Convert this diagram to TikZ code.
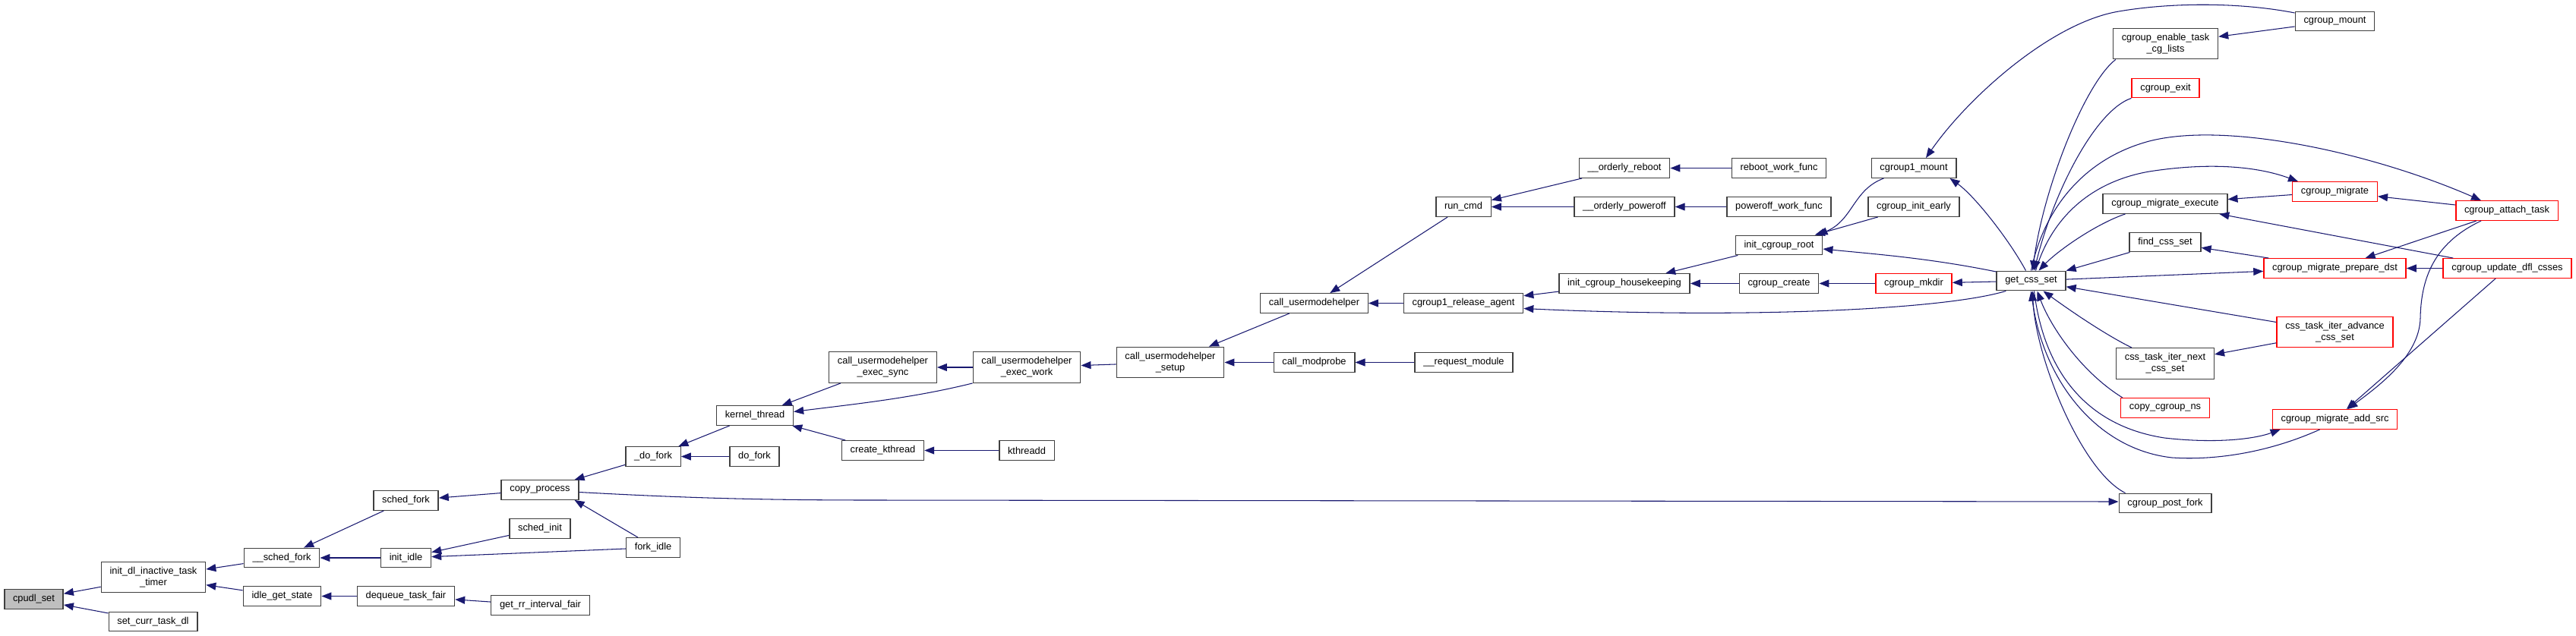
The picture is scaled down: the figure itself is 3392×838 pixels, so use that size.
\documentclass[tikz,border=0pt]{standalone}
\usepackage{fontspec}
\setmainfont{Liberation Sans}
\usepackage{tikz}
\usetikzlibrary{arrows.meta,calc}
\definecolor{edgeblue}{RGB}{25,25,112}
\definecolor{fnframe}{RGB}{64,64,64}
\definecolor{fnredline}{RGB}{255,0,0}
\definecolor{fngray}{RGB}{191,191,191}
\tikzset{
  fn/.style={draw=fnframe, line width=0.8pt, fill=white, inner xsep=6.4pt, inner ysep=0pt,
    minimum height=0.51cm, align=center, font=\fontsize{7.3}{8.5}\selectfont},
  fnred/.style={fn, draw=fnredline},
  fnhere/.style={fn, fill=fngray},
  fntwo/.style={minimum height=0.81cm},
  calls/.style={-{Triangle[length=2.6mm, width=2mm]}, draw=edgeblue, line width=0.6pt},
}

\begin{document}
\begin{tikzpicture}[x=0.02cm, y=-0.02cm]
\useasboundingbox (0,0) rectangle (3392,838);
% sched side
\node[fnhere] (cpudl) at (44.5,789.5) {cpudl\_set};
\node[fn, fntwo] (initdl) at (202,760.5) {init\_dl\_inactive\_task\\\_timer};
\node[fn] (setcurr) at (201.5,819) {set\_curr\_task\_dl};
\node[fn] (schedforkint) at (371,735) {\_\_sched\_fork};
\node[fn] (idleget) at (371.5,785.5) {idle\_get\_state};
\node[fn] (schedfork) at (534.5,659.5) {sched\_fork};
\node[fn] (initidle) at (534.5,735) {init\_idle};
\node[fn] (dequeue) at (534.5,785.5) {dequeue\_task\_fair};
\node[fn] (copyproc) at (711,645.5) {copy\_process};
\node[fn] (schedinit) at (711,696.5) {sched\_init};
\node[fn] (getrr) at (711.5,797.5) {get\_rr\_interval\_fair};
\node[fn] (dofork_) at (860,601.5) {\_do\_fork};
\node[fn] (forkidle) at (860,721.5) {fork\_idle};
\node[fn] (dofork) at (993.5,601.5) {do\_fork};
\node[fn] (kthread) at (994,547.5) {kernel\_thread};
\node[fn, fntwo] (execsync) at (1162.5,484) {call\_usermodehelper\\\_exec\_sync};
\node[fn] (createk) at (1162.5,593.5) {create\_kthread};
\node[fn, fntwo] (execwork) at (1352,484) {call\_usermodehelper\\\_exec\_work};
\node[fn] (kthreadd) at (1352,593.5) {kthreadd};
\node[fn, fntwo] (umhsetup) at (1541,477.5) {call\_usermodehelper\\\_setup};
\node[fn] (umh) at (1730.5,399.5) {call\_usermodehelper};
\node[fn] (modprobe) at (1730.5,477.5) {call\_modprobe};
\node[fn] (runcmd) at (1927,272.5) {run\_cmd};
\node[fn] (relagent) at (1927,399.5) {cgroup1\_release\_agent};
\node[fn] (reqmod) at (1927.5,477.5) {\_\_request\_module};
\node[fn] (oreboot) at (2139,221.5) {\_\_orderly\_reboot};
\node[fn] (opoweroff) at (2139,272.5) {\_\_orderly\_poweroff};
\node[fn] (housekeep) at (2139,373.5) {init\_cgroup\_housekeeping};
\node[fn] (rebootwf) at (2342.5,221.5) {reboot\_work\_func};
\node[fn] (poweroffwf) at (2342.5,272.5) {poweroff\_work\_func};
\node[fn] (cgroot) at (2342.5,323) {init\_cgroup\_root};
\node[fn] (cgcreate) at (2342.5,373.5) {cgroup\_create};
% cgroup side
\node[fn] (cg1mount) at (2520,221.5) {cgroup1\_mount};
\node[fn] (cginitearly) at (2520,272.5) {cgroup\_init\_early};
\node[fnred] (cgmkdir) at (2520,373.5) {cgroup\_mkdir};
\node[fn] (getcss) at (2674.5,370) {get\_css\_set};
\node[fn, fntwo] (enablecg) at (2851.5,57.5) {cgroup\_enable\_task\\\_cg\_lists};
\node[fnred] (cgexit) at (2851.5,116) {cgroup\_exit};
\node[fn] (migexec) at (2851,268.5) {cgroup\_migrate\_execute};
\node[fn] (findcss) at (2851,319) {find\_css\_set};
\node[fn, fntwo] (iternext) at (2851,479) {css\_task\_iter\_next\\\_css\_set};
\node[fnred] (copyns) at (2851,537.5) {copy\_cgroup\_ns};
\node[fn] (postfork) at (2851,663) {cgroup\_post\_fork};
\node[fn] (cgmount) at (3074.5,28) {cgroup\_mount};
\node[fnred] (migrate) at (3074.5,252.5) {cgroup\_migrate};
\node[fnred] (prepdst) at (3074.5,353.5) {cgroup\_migrate\_prepare\_dst};
\node[fnred, fntwo] (iteradv) at (3074.5,437.5) {css\_task\_iter\_advance\\\_css\_set};
\node[fnred] (addsrc) at (3074.5,552.5) {cgroup\_migrate\_add\_src};
\node[fnred] (attach) at (3301,277.5) {cgroup\_attach\_task};
\node[fnred] (updfl) at (3301.5,353.5) {cgroup\_update\_dfl\_csses};

\draw[calls] (initdl) -- (cpudl); \draw[calls] (setcurr) -- (cpudl);
\draw[calls] (schedforkint) -- (initdl); \draw[calls] (idleget) -- (initdl);
\draw[calls] (schedfork) -- (schedforkint); \draw[calls] (initidle) -- (schedforkint);
\draw[calls] (dequeue) -- (idleget); \draw[calls] (getrr) -- (dequeue);
\draw[calls] (copyproc) -- (schedfork); \draw[calls] (schedinit) -- (initidle);
\draw[calls] (forkidle) -- (initidle);
\draw[calls] ($(forkidle.north)+(-20,0)$) -- ($(copyproc.south east)+(-6,0)$);
\draw[calls] (dofork_) -- (copyproc); \draw[calls] (dofork) -- (dofork_);
\draw[calls] (kthread) -- (dofork_);
\draw[calls] (execsync) -- (kthread); \draw[calls] (createk) -- (kthread);
\draw[calls] (execwork.south west) .. controls (1200,525) and (1120,533) .. ($(kthread.east)+(0,-5)$);
\draw[calls] (kthreadd) -- (createk);
\draw[calls] (execwork) -- (execsync); \draw[calls] (umhsetup) -- (execwork);
\draw[calls] (umh) -- (umhsetup); \draw[calls] (modprobe) -- (umhsetup);
\draw[calls] (reqmod) -- (modprobe);
\draw[calls] (runcmd) -- (umh); \draw[calls] (relagent) -- (umh);
\draw[calls] (oreboot) -- (runcmd); \draw[calls] (opoweroff) -- (runcmd);
\draw[calls] (rebootwf) -- (oreboot); \draw[calls] (poweroffwf) -- (opoweroff);
\draw[calls] (housekeep) -- (relagent);
\draw[calls] (cgroot) -- (housekeep); \draw[calls] (cgcreate) -- (housekeep);
\draw[calls] (cgmkdir) -- (cgcreate); \draw[calls] (getcss) -- (cgmkdir);
\draw[calls] (cginitearly) -- (cgroot);
\draw[calls] ($(cg1mount.south west)+(17,0)$) .. controls (2440,250) and (2440,290) .. ($(cgroot.north east)+(-7,0)$);
\draw[calls] ($(getcss.west)+(0,-12)$) .. controls (2540,340) and (2470,335) .. ($(cgroot.east)+(0,5)$);
\draw[calls] ($(getcss.south west)+(13,0)$) .. controls (2560,408) and (2300,420) .. ($(relagent.east)+(0,7)$);
\draw[calls] ($(getcss.north)+(-7,0)$) .. controls (2645,315) and (2600,258) .. ($(cg1mount.south east)+(-9,0)$);
\draw[calls] ($(cgmount.west)+(0,-11)$) .. controls (2950,3) and (2860,3) .. (2790,15) .. controls (2700,30) and (2590,130) .. ($(cg1mount.north)+(16,0)$);
\draw[calls] (cgmount) -- (enablecg);
% into get_css_set
\draw[calls] ($(enablecg.south west)+(4,0)$) .. controls (2745,110) and (2690,250) .. ($(getcss.north)+(2,0)$);
\draw[calls] (cgexit.south west) .. controls (2760,145) and (2705,250) .. ($(getcss.north)+(4,0)$);
\draw[calls] ($(migexec.south west)+(30,0)$) .. controls (2760,295) and (2710,330) .. ($(getcss.north)+(10,0)$);
\draw[calls] (findcss) -- (getcss); \draw[calls] (iteradv) -- (getcss);
\draw[calls] ($(iternext.north west)+(21,0)$) .. controls (2770,440) and (2720,405) .. ($(getcss.south)+(16,0)$);
\draw[calls] ($(copyns.north west)+(3,0)$) .. controls (2740,490) and (2700,430) .. ($(getcss.south)+(8,0)$);
\draw[calls] ($(postfork.north west)+(9,0)$) .. controls (2740,620) and (2680,470) .. ($(getcss.south)+(2,0)$);
\draw[calls] ($(addsrc.south west)+(63,0)$) .. controls (2990,595) and (2920,607) .. (2860,603) .. controls (2760,592) and (2690,500) .. (getcss.south);
% out of get_css_set
\draw[calls] ($(getcss.south)+(4,0)$) .. controls (2690,480) and (2740,560) .. (2850,577) .. controls (2920,585) and (2970,578) .. ($(addsrc.south west)+(11,0)$);
\draw[calls] (getcss) -- (prepdst);
\draw[calls] ($(getcss.north)+(6,0)$) .. controls (2700,290) and (2750,240) .. (2830,226) .. controls (2920,212) and (2980,222) .. ($(migrate.north west)+(8,0)$);
\draw[calls] (getcss.north) .. controls (2690,280) and (2740,210) .. (2830,186) .. controls (2930,160) and (3120,200) .. ($(attach.north)+(-34,0)$);
\draw[calls] (iteradv) -- (iternext);
\draw[calls] (prepdst) -- (findcss); \draw[calls] (migrate) -- (migexec);
\draw[calls] (updfl) -- (migexec); \draw[calls] (attach) -- (migrate);
\draw[calls] (attach) -- (prepdst); \draw[calls] (updfl) -- (prepdst);
\draw[calls] ($(attach.south west)+(34,0)$) .. controls (3210,318) and (3188,360) .. (3187,419) .. controls (3186,470) and (3130,510) .. ($(addsrc.north)+(17,0)$);
\draw[calls] (updfl) -- (addsrc);
\draw[calls] ($(copyproc.east)+(0,3)$) .. controls (900,656) and (1000,659) .. (1150,659) -- ($(postfork.west)+(0,-2)$);
\end{tikzpicture}
\end{document}
